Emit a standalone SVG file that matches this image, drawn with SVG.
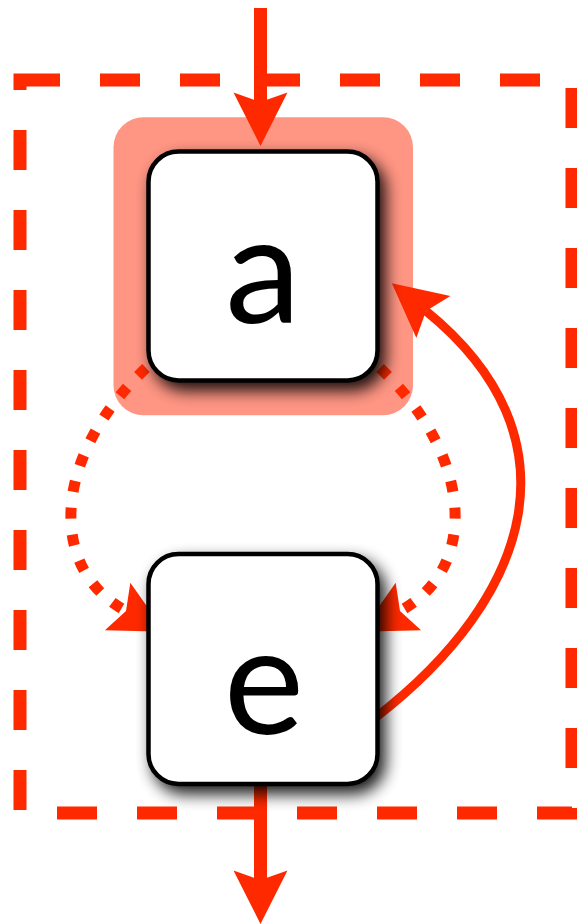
<svg xmlns="http://www.w3.org/2000/svg" width="577" height="924" viewBox="0 0 577 924">
<style>
.boundary{fill:none;stroke:#ff2900;stroke-width:13;stroke-dasharray:40 40}
.hl{fill:#ff9583}
.conn{fill:none;stroke:#ff2900}
.solid{stroke-width:13}
.thin{stroke-width:9}
.dot{stroke-width:11;stroke-dasharray:11 16}
.box{fill:#ffffff;stroke:#000000;stroke-width:4.5}
.lbl{font-family:Lato,"Liberation Sans","DejaVu Sans",sans-serif;font-size:152px;fill:#000000;text-anchor:middle}
</style>
<defs>
<marker id="ah" markerUnits="userSpaceOnUse" markerWidth="60" markerHeight="60" refX="0" refY="0" orient="auto" overflow="visible">
<path d="M44,0 L-9.5,-27 L0,0 L-9.5,27 Z" fill="#ff2900"/>
</marker>
<filter id="sh" x="-30%" y="-30%" width="160%" height="160%">
<feGaussianBlur in="SourceAlpha" stdDeviation="8"/>
<feOffset dx="6" dy="8" result="b"/>
<feComponentTransfer><feFuncA type="linear" slope="0.9"/></feComponentTransfer>
<feMerge><feMergeNode/><feMergeNode in="SourceGraphic"/></feMerge>
</filter>
</defs>
<rect id="group" class="boundary" x="20" y="80" width="552" height="733"/>
<rect id="highlight" class="hl" x="113.5" y="117.3" width="299.5" height="298" rx="30"/>
<g id="connectors">
<path class="conn solid" d="M260.5,8 L260.5,102" marker-end="url(#ah)"/>
<path class="conn solid" d="M260.5,786 L260.5,880" marker-end="url(#ah)"/>
<path class="conn dot" d="M146,368 C52.5,455.8 46.8,568.7 126,611" marker-end="url(#ah)"/>
<path class="conn dot" d="M380,368 C473.5,455.8 479.2,568.7 400,611" marker-end="url(#ah)"/>
<path class="conn thin" d="M375,718 C533,596 581,437 426,311" marker-end="url(#ah)"/>
</g>
<g id="node-a" filter="url(#sh)">
<rect class="box" x="148.5" y="151.5" width="229" height="229" rx="30"/>
<text class="lbl" x="263" y="323">a</text>
</g>
<g id="node-e" filter="url(#sh)">
<rect class="box" x="148.5" y="554" width="229" height="230" rx="30"/>
<text class="lbl" x="264" y="734">e</text>
</g>
</svg>
